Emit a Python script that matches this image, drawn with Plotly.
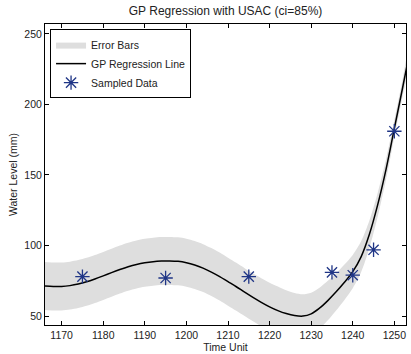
import plotly.graph_objects as go

# ---- data ----
time_grid = [1166, 1168, 1170, 1172, 1174, 1176, 1178, 1180, 1182, 1184, 1186, 1188,
             1190, 1192, 1194, 1196, 1198, 1200, 1202, 1204, 1206, 1208, 1210, 1212,
             1214, 1216, 1218, 1220, 1222, 1224, 1226, 1228, 1230, 1232, 1234, 1236,
             1238, 1240, 1242, 1244, 1246, 1248, 1250, 1252, 1253]
gp_mean = [71.3, 71.0, 71.0, 71.6, 72.7, 74.3, 76.3, 78.5, 80.8, 83.0, 85.0, 86.6,
           87.8, 88.6, 89.0, 89.1, 88.8, 87.8, 86.2, 84.0, 81.2, 78.0, 74.4, 70.8,
           67.0, 63.3, 59.8, 56.6, 53.9, 51.8, 50.4, 50.0, 51.6, 55.6, 61.0, 67.2,
           74.0, 81.5, 92.0, 108.0, 129.0, 154.0, 183.0, 212.0, 227.0]
half_width = [17, 17, 17, 17, 17, 17, 17, 17, 17, 17, 17, 17,
              17, 17, 17, 17, 17, 17, 17, 17, 17, 17, 17, 17,
              17, 17, 17, 17, 17, 16.5, 16, 15.5, 15, 14.5, 14, 13.2,
              12.5, 11.8, 11, 9.8, 8.5, 7.2, 6, 6, 6.5]

sample_time = [1175, 1195, 1215, 1235, 1240, 1245, 1250]
sample_level = [78, 77, 78, 81, 79, 97, 181]

x_ticks = [1170, 1180, 1190, 1200, 1210, 1220, 1230, 1240, 1250]
y_ticks = [50, 100, 150, 200, 250]

FONT = "Liberation Sans, Arial, Helvetica, sans-serif"

upper = [m + h for m, h in zip(gp_mean, half_width)]
lower = [m - h for m, h in zip(gp_mean, half_width)]

fig = go.Figure()
fig.add_trace(go.Scatter(
    x=time_grid + time_grid[::-1],
    y=upper + lower[::-1],
    fill="toself", fillcolor="#dedede",
    line=dict(width=0, color="#dedede", shape="spline", smoothing=0.8),
    mode="lines", name="Error Bars", hoverinfo="skip",
))
fig.add_trace(go.Scatter(
    x=time_grid, y=gp_mean, mode="lines",
    line=dict(color="black", width=1.5, shape="spline", smoothing=1.0),
    name="GP Regression Line",
))
fig.add_trace(go.Scatter(
    x=sample_time, y=sample_level, mode="markers",
    marker=dict(symbol="asterisk-open", size=12, color="#1f3586",
                line=dict(color="#1f3586", width=1.3)),
    name="Sampled Data",
))

axis_common = dict(
    showline=True, linecolor="black", linewidth=1, mirror="ticks",
    ticks="inside", ticklen=4, tickcolor="black", tickwidth=1,
    showgrid=False, zeroline=False,
    tickfont=dict(family=FONT, size=10.5, color="#222222"),
)

fig.update_layout(
    width=411, height=354,
    margin=dict(l=45, r=5, t=24, b=29),
    paper_bgcolor="white", plot_bgcolor="white",
    font=dict(family=FONT, size=10.5, color="#222222"),
    title=dict(text="GP Regression with USAC (ci=85%)", x=0.5488, xanchor="center",
               yref="container", y=1 - 11 / 354, yanchor="middle",
               font=dict(family=FONT, size=12, color="#222222")),
    xaxis=dict(range=[1166, 1252.8], tickvals=x_ticks, ticktext=[str(v) for v in x_ticks],
               title=dict(text="Time Unit", standoff=2, font=dict(family=FONT, size=10.5)),
               **axis_common),
    yaxis=dict(range=[43.7, 257], tickvals=y_ticks, ticktext=[str(v) for v in y_ticks],
               title=dict(text="Water Level (mm)", standoff=4, font=dict(family=FONT, size=10.5)),
               **axis_common),
    legend=dict(x=0.014, y=0.983, xanchor="left", yanchor="top",
                bgcolor="white", bordercolor="black", borderwidth=1,
                font=dict(family=FONT, size=10.5, color="#222222"),
                tracegroupgap=0, itemwidth=30),
    showlegend=True,
)

fig.write_html("out.html")
